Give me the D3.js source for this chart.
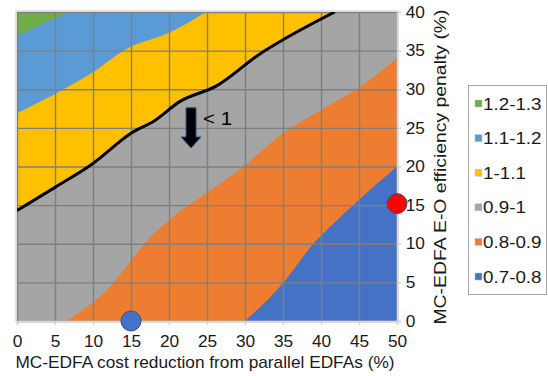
<!DOCTYPE html>
<html>
<head>
<meta charset="utf-8">
<script src="https://cdn.jsdelivr.net/npm/d3@7"></script>
<style>
  body { margin: 0; background: #fff; }
  text { font-family: "Liberation Sans", Arial, sans-serif; fill: #1a1a1a; }
</style>
</head>
<body>
<svg width="548" height="376"></svg>
<script>
var width = 548,
    height = 376,
    margin = {left: 17, right: 151, top: 12, bottom: 55},
    stretch = 1.08; // text in the source is a bit wide

var xTicks = [0, 5, 10, 15, 20, 25, 30, 35, 40, 45, 50];
var yTicks = [0, 5, 10, 15, 20, 25, 30, 35, 40];

// bands, top to bottom
var bandLabels = ["1.2-1.3", "1.1-1.2", "1-1.1", "0.9-1", "0.8-0.9", "0.7-0.8"];
var bandColors = ["#70ad47", "#5b9bd5", "#ffc000", "#a5a5a5", "#ed7d31", "#4472c4"];

// lower edge of each band (boundary with the next one down)
var edge12 = [[0, 36.9], [5, 39.2], [7, 40]];
var edge11 = [[0, 26.9], [5, 29.4], [10, 32.2], [14.4, 35.2], [20, 37.3], [24.9, 40]];
var edge10 = [[0, 14.3], [5, 17.3], [10, 20.4], [15, 24.3], [18.2, 26.0], [21.4, 28.4],
              [26.2, 30.4], [32, 34.6], [35, 36.4], [41.8, 40]];
var edge09 = [[6.5, 0], [12.2, 4.4], [16.6, 9.8], [21.4, 14.2], [24.1, 16.0], [29.8, 20],
              [35, 24.3], [40.7, 27.7], [45.1, 30.3], [50, 34]];
var edge08 = [[30, 0], [35, 4.9], [39, 10], [41, 12], [45, 15.7], [50, 20]];
var edges = [edge12, edge11, edge10, edge09, edge08];

// annotation: arrow toward lower cost (< 1)
var arrowX = 22.9, arrowTop = 27.6, arrowTip = 22.4;
var arrowLabel = "< 1";

var markers = [
  {x: 15, y: 0, color: "#4472c4"},
  {x: 50, y: 15.2, color: "#ff0000"}
];

var svg = d3.select("svg");
var pw = width - margin.left - margin.right,
    ph = height - margin.top - margin.bottom;

var x = d3.scaleLinear().domain([0, 50]).range([margin.left, margin.left + pw]);
var y = d3.scaleLinear().domain([0, 40]).range([margin.top + ph, margin.top]);

svg.append("clipPath").attr("id", "plot")
  .append("rect")
    .attr("x", x(0)).attr("y", y(40))
    .attr("width", pw).attr("height", ph);

var fills = svg.append("g").attr("clip-path", "url(#plot)");

// top band fills the whole area, then each lower band is painted over it
fills.append("rect")
    .attr("x", x(0)).attr("y", y(40))
    .attr("width", pw).attr("height", ph)
    .attr("fill", bandColors[0]);

var curve = d3.line()
    .x(function(d) { return x(d[0]); })
    .y(function(d) { return y(d[1]); })
    .curve(d3.curveMonotoneX);

function corners(pts) {
  var c = [];
  if (pts[pts.length - 1][1] >= 40) c.push([50, 40]);
  c.push([50, 0]);
  if (pts[0][0] <= 0) c.push([0, 0]);
  return c.map(function(p) { return "L" + x(p[0]) + "," + y(p[1]); }).join("") + "Z";
}

fills.selectAll("path.band")
    .data(edges)
  .enter().append("path")
    .attr("class", "band")
    .attr("d", function(d) { return curve(d) + corners(d); })
    .attr("fill", function(d, i) { return bandColors[i + 1]; });

// gridlines drawn as axes with full-length ticks
var gx = svg.append("g")
    .attr("class", "grid")
    .attr("transform", "translate(0," + y(0) + ")")
    .call(d3.axisBottom(x).tickValues(xTicks).tickSize(-ph).tickFormat(""));
var gy = svg.append("g")
    .attr("class", "grid")
    .attr("transform", "translate(" + x(0) + ",0)")
    .call(d3.axisLeft(y).tickValues(yTicks).tickSize(-pw).tickFormat(""));
svg.selectAll(".grid .domain").remove();
svg.selectAll(".grid .tick line")
    .attr("stroke", "#7f7f7f")
    .attr("stroke-width", 1.4);

// contour at 1
svg.append("path")
    .attr("clip-path", "url(#plot)")
    .attr("d", curve(edge10))
    .attr("fill", "none")
    .attr("stroke", "#000")
    .attr("stroke-width", 3);

// frame
svg.append("rect")
    .attr("x", x(0) - 1).attr("y", y(40) - 1)
    .attr("width", pw + 2).attr("height", ph + 2)
    .attr("fill", "none").attr("stroke", "#d9d9d9").attr("stroke-width", 1.5);

// arrow
var ax = x(arrowX), hw = 5, headW = 10, headH = 11;
svg.append("path")
    .attr("d", "M" + (ax - hw) + "," + y(arrowTop) +
               "H" + (ax + hw) + "V" + (y(arrowTip) - headH) +
               "H" + (ax + headW) + "L" + ax + "," + y(arrowTip) +
               "L" + (ax - headW) + "," + (y(arrowTip) - headH) +
               "H" + (ax - hw) + "Z")
    .attr("fill", "#000")
    .attr("stroke", "#2f528f")
    .attr("stroke-width", 1);
svg.append("text")
    .attr("transform", "translate(" + (ax + 12) + "," + (y(arrowTop) + 17) + ") scale(" + stretch + ",1)")
    .attr("font-size", 19)
    .style("fill", "#000")
    .text(arrowLabel);

// axes
var xAxis = svg.append("g")
    .attr("transform", "translate(0," + y(0) + ")")
    .call(d3.axisBottom(x).tickValues(xTicks).tickSize(4).tickPadding(11));
var yAxis = svg.append("g")
    .attr("transform", "translate(" + x(50) + ",0)")
    .call(d3.axisRight(y).tickValues(yTicks).tickSize(4).tickPadding(4));
[xAxis, yAxis].forEach(function(a) {
  a.select(".domain").attr("stroke", "#d9d9d9").attr("stroke-width", 1.5);
  a.selectAll(".tick line").attr("stroke", "#d0d0d0").attr("stroke-width", 1.5);
  a.selectAll("text")
      .attr("font-size", 16)
      .attr("font-family", "'Liberation Sans', Arial, sans-serif")
      .attr("transform", "scale(" + stretch + ",1)")
      .style("fill", "#1a1a1a");
});

svg.append("text")
    .attr("transform", "translate(" + 205 + ",368) scale(" + stretch + ",1)")
    .attr("text-anchor", "middle")
    .attr("font-size", 16)
    .text("MC-EDFA cost reduction from parallel EDFAs (%)");

svg.append("text")
    .attr("transform", "translate(446,167) rotate(-90) scale(1.14,1)")
    .attr("text-anchor", "middle")
    .attr("font-size", 17)
    .text("MC-EDFA E-O efficiency penalty (%)");

// markers
svg.selectAll("circle.marker")
    .data(markers)
  .enter().append("circle")
    .attr("class", "marker")
    .attr("cx", function(d) { return x(d.x); })
    .attr("cy", function(d) { return y(d.y); })
    .attr("r", 10)
    .attr("fill", function(d) { return d.color; })
    .attr("stroke", "#2f528f")
    .attr("stroke-width", 1);

// legend
var legend = svg.append("g").attr("transform", "translate(468,85)");
legend.append("rect")
    .attr("x", 0.5).attr("y", 0.5)
    .attr("width", 78).attr("height", 209)
    .attr("fill", "#fff").attr("stroke", "#a6a6a6");
var item = legend.selectAll("g.item")
    .data(bandLabels)
  .enter().append("g")
    .attr("class", "item")
    .attr("transform", function(d, i) { return "translate(7," + (19 + i * 34.6) + ")"; });
item.append("rect")
    .attr("width", 7).attr("height", 7)
    .attr("y", -4)
    .attr("fill", function(d, i) { return bandColors[i]; })
    .attr("stroke", "#bfbfbf").attr("stroke-width", 0.5);
item.append("text")
    .attr("transform", "translate(8,5.5) scale(1.14,1)")
    .attr("font-size", 16.5)
    .text(function(d) { return d; });
</script>
</body>
</html>
